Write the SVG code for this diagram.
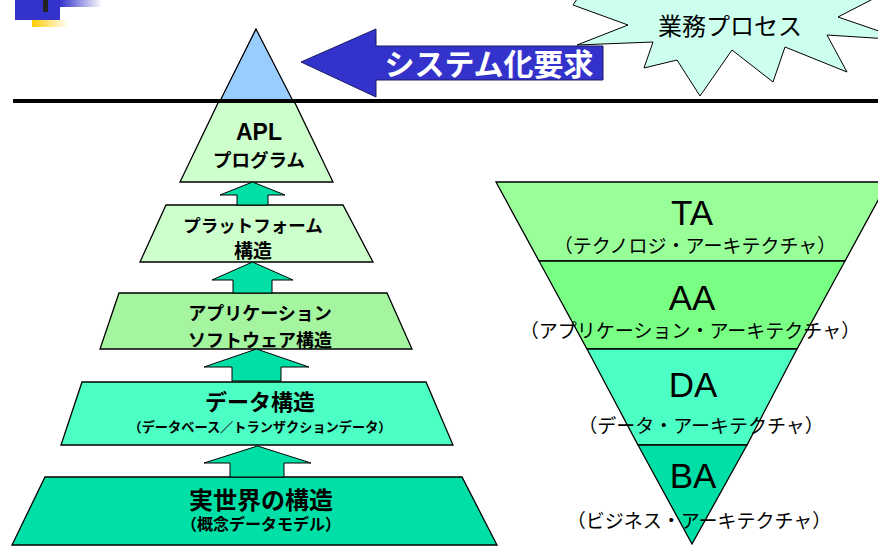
<svg xmlns="http://www.w3.org/2000/svg" width="878" height="547" viewBox="0 0 878 547">
<defs>
<linearGradient id="gBlue" x1="0" y1="0" x2="1" y2="0"><stop offset="0" stop-color="#3333CC"/><stop offset="1" stop-color="#FFFFFF"/></linearGradient>
<linearGradient id="gYel" x1="0" y1="0" x2="1" y2="0"><stop offset="0" stop-color="#FFCC00"/><stop offset="1" stop-color="#FFFFFF"/></linearGradient>
<style>
.lay{stroke:#000;stroke-width:1.3;stroke-linejoin:miter}
.arr{fill:#00DFA5;stroke:#000;stroke-width:1}
.bj{font-family:"Liberation Sans","Noto Sans CJK JP",sans-serif;font-weight:bold;fill:#000;text-anchor:middle}
.big{font-family:"Liberation Sans","Noto Sans CJK JP",sans-serif;font-size:35px;fill:#000;text-anchor:middle}
.sub{font-family:"Noto Sans CJK JP",sans-serif;font-size:19px;fill:#000;text-anchor:middle}
</style>
</defs>
<rect width="878" height="547" fill="#FFFFFF"/>

<g id="logo">
<rect x="60" y="0" width="42" height="7" fill="url(#gBlue)"/>
<rect x="15" y="0" width="45" height="20" fill="#3333CC"/>
<rect x="32" y="20" width="36" height="7" fill="url(#gYel)"/>
<rect x="43" y="0" width="5" height="12" fill="#222222"/>
</g>

<g id="business-process">
<polygon points="590,-20 573,5 628,25 577,45 653,42 644,68 677,60 700,96 732,50 773,82 785,47 847,72 827,35 905,40 838,17 900,-15" fill="#CCFFEE" stroke="#000" stroke-width="1"/>
<text x="730" y="35" font-family="Noto Sans CJK JP, sans-serif" font-size="24" text-anchor="middle" fill="#000">業務プロセス</text>
</g>

<g id="system-request">
<polygon points="301,62 376,29 376,46 603,46 603,80 376,80 376,97" fill="#3333CC" stroke="#1a1a66" stroke-width="1"/>
<text x="489" y="75" font-family="Noto Sans CJK JP, sans-serif" font-weight="bold" font-size="30" text-anchor="middle" fill="#FFFFFF">システム化要求</text>
</g>

<g id="apex">
<polygon class="lay" points="256,29 293,101 220,101" fill="#99CCFF"/>
</g>

<g id="apl">
<polygon class="lay" points="219,101 294,101 333,182 180,182" fill="#CCFFCC"/>
<text class="bj" x="259" y="140" font-size="23">APL</text>
<text class="bj" x="259" y="167" font-size="18.5">プログラム</text>
</g>

<g id="platform">
<polygon class="lay" points="166,205 343,205 373,262 140,262" fill="#CCFFCC"/>
<text class="bj" x="253" y="232" font-size="17.5">プラットフォーム</text>
<text class="bj" x="253" y="258" font-size="19">構造</text>
</g>

<g id="app-software">
<polygon class="lay" points="119,293 387,293 412,349 100,349" fill="#A5F5A0"/>
<text class="bj" x="260" y="320" font-size="18">アプリケーション</text>
<text class="bj" x="260" y="347" font-size="18">ソフトウェア構造</text>
</g>

<g id="data-structure">
<polygon class="lay" points="82,382 426,382 453,445 61,445" fill="#4CFFC4"/>
<text class="bj" x="260" y="410" font-size="22">データ構造</text>
<text class="bj" x="260" y="432" font-size="13.2">（データベース／トランザクションデータ）</text>
</g>

<g id="real-world">
<polygon class="lay" points="45,477 462,477 497,545 12,545" fill="#00E0A6"/>
<text class="bj" x="261" y="509" font-size="24">実世界の構造</text>
<text class="bj" x="261" y="530" font-size="16">（概念データモデル）</text>
</g>

<g id="connectors">
<polygon class="arr" points="252.5,182 285,195 268,195 268,205 237,205 237,195 220,195"/>
<polygon class="arr" points="252.5,262 293,280 272,280 272,293 233,293 233,280 212,280"/>
<polygon class="arr" points="256.5,349 309,367 281,367 281,381 232,381 232,367 204,367"/>
<polygon class="arr" points="257.5,446 311,463 284,463 284,477 230,477 230,463 204,463"/>
</g>

<g id="baseline">
<line x1="13" y1="101" x2="878" y2="101" stroke="#000" stroke-width="4"/>
</g>

<g id="ta">
<polygon class="lay" points="496,182 888,182 845,261 539,261" fill="#99FF99"/>
<text class="big" x="692" y="225">TA</text>
<text class="sub" x="695" y="253">（テクノロジ・アーキテクチャ）</text>
</g>
<g id="aa">
<polygon class="lay" points="539,261 845,261 797,349 587,349" fill="#7AFF85"/>
<text class="big" x="692" y="310">AA</text>
<text class="sub" x="690" y="338">（アプリケーション・アーキテクチャ）</text>
</g>
<g id="da">
<polygon class="lay" points="587,349 797,349 747,445 638,445" fill="#4CFFC4"/>
<text class="big" x="693" y="397">DA</text>
<text class="sub" x="701" y="433">（データ・アーキテクチャ）</text>
</g>
<g id="ba">
<polygon class="lay" points="638,445 747,445 692,544" fill="#00E0A6"/>
<text class="big" x="693" y="488">BA</text>
<text class="sub" x="699" y="528">（ビジネス・アーキテクチャ）</text>
</g>
</svg>
